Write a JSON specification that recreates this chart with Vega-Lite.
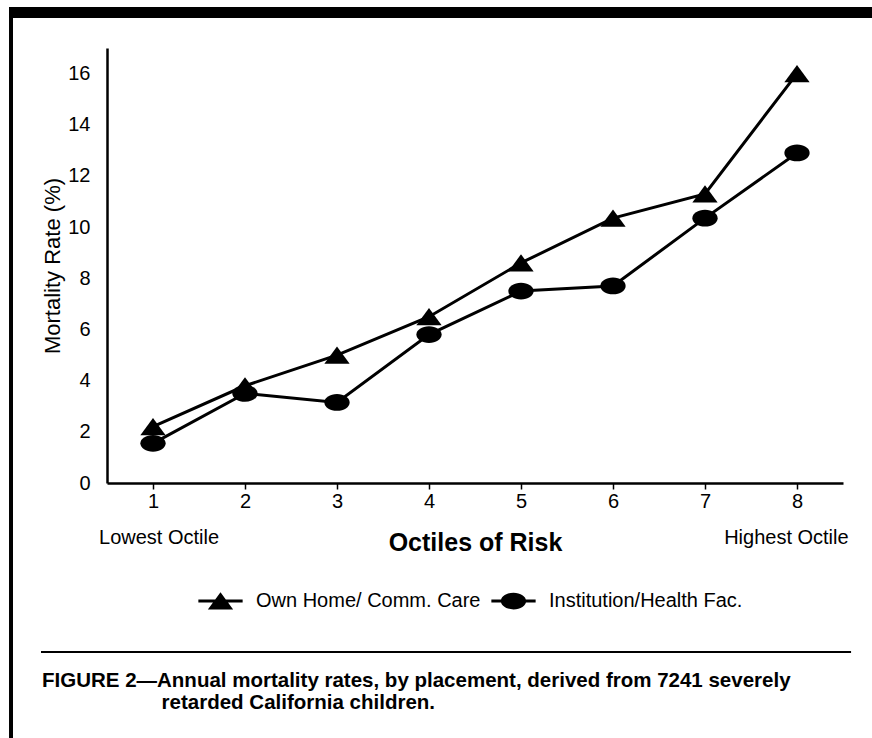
{
  "$schema": "https://vega.github.io/schema/vega-lite/v6.json",
  "width": 736,
  "height": 435,
  "autosize": {"type": "none"},
  "padding": {"left": 107, "top": 48, "right": 29, "bottom": 255},
  "background": "white",
  "config": {
    "view": {"stroke": null},
    "font": "Liberation Sans",
    "axis": {"grid": false, "labelFont": "Liberation Sans", "titleFont": "Liberation Sans", "labelColor": "black", "titleColor": "black", "domainColor": "black", "tickColor": "black"},
    "legend": {"labelFont": "Liberation Sans", "labelColor": "black"}
  },
  "title": {
    "text": [
      "FIGURE 2—Annual mortality rates, by placement, derived from 7241 severely",
      "\u200b\u00a0\u00a0\u00a0\u00a0\u00a0\u00a0\u00a0\u00a0\u00a0\u00a0\u00a0\u00a0\u00a0\u00a0\u00a0\u00a0\u00a0\u00a0\u00a0\u00a0\u00a0retarded California children."
    ],
    "orient": "bottom",
    "anchor": "start",
    "frame": "group",
    "dx": -65,
    "offset": -68,
    "font": "Liberation Sans",
    "fontSize": 20.5,
    "fontWeight": "bold",
    "lineHeight": 22,
    "color": "black"
  },
  "data": {
    "values": [
      {"series": "Own Home/ Comm. Care", "octile": 1, "rate": 2.2},
      {"series": "Own Home/ Comm. Care", "octile": 2, "rate": 3.8},
      {"series": "Own Home/ Comm. Care", "octile": 3, "rate": 5.0},
      {"series": "Own Home/ Comm. Care", "octile": 4, "rate": 6.5},
      {"series": "Own Home/ Comm. Care", "octile": 5, "rate": 8.6},
      {"series": "Own Home/ Comm. Care", "octile": 6, "rate": 10.35},
      {"series": "Own Home/ Comm. Care", "octile": 7, "rate": 11.3},
      {"series": "Own Home/ Comm. Care", "octile": 8, "rate": 16.0},
      {"series": "Institution/Health Fac.", "octile": 1, "rate": 1.55},
      {"series": "Institution/Health Fac.", "octile": 2, "rate": 3.5},
      {"series": "Institution/Health Fac.", "octile": 3, "rate": 3.15},
      {"series": "Institution/Health Fac.", "octile": 4, "rate": 5.8},
      {"series": "Institution/Health Fac.", "octile": 5, "rate": 7.5},
      {"series": "Institution/Health Fac.", "octile": 6, "rate": 7.7},
      {"series": "Institution/Health Fac.", "octile": 7, "rate": 10.35},
      {"series": "Institution/Health Fac.", "octile": 8, "rate": 12.9}
    ]
  },
  "resolve": {"scale": {"shape": "independent"}, "legend": {"shape": "independent"}},
  "layer": [
    {
      "mark": {"type": "line", "color": "black", "strokeWidth": 3},
      "encoding": {
        "x": {
          "field": "octile", "type": "quantitative",
          "scale": {"domain": [0.5, 8.5], "nice": false, "zero": false},
          "axis": {
            "title": "Octiles of Risk",
            "values": [1, 2, 3, 4, 5, 6, 7, 8],
            "labelExpr": "datum.value == 1 ? ['1', '\u200b\u00a0\u00a0Lowest Octile'] : datum.value == 8 ? ['8', 'Highest Octile\u00a0\u00a0\u00a0\u00a0\u200b'] : format(datum.value, 'd')",
            "labelFontSize": 20,
            "labelLineHeight": 36,
            "labelPadding": 2,
            "labelFlush": false,
            "labelOverlap": false,
            "labelBound": false,
            "labelLimit": 300,
            "tickSize": 6,
            "tickWidth": 1.5,
            "domainWidth": 2.5,
            "titleFontSize": 25,
            "titleFontWeight": "bold",
            "titleX": 368,
            "titleY": 67,
            "titleAlign": "center",
            "titleBaseline": "alphabetic"
          }
        },
        "y": {
          "field": "rate", "type": "quantitative",
          "scale": {"domain": [0, 17], "nice": false, "zero": true},
          "axis": {
            "title": "Mortality Rate (%)",
            "values": [0, 2, 4, 6, 8, 10, 12, 14, 16],
            "ticks": false,
            "tickSize": 0,
            "labelPadding": 17,
            "labelFontSize": 20,
            "domainWidth": 2.5,
            "titleFontSize": 22,
            "titleFontWeight": "normal",
            "titleX": -55,
            "titleY": 217.5,
            "titleAngle": -90,
            "titleAlign": "center",
            "titleBaseline": "middle"
          }
        },
        "detail": {"field": "series", "type": "nominal"}
      }
    },
    {
      "mark": {"type": "point", "filled": true, "color": "black", "opacity": 1, "size": 640},
      "encoding": {
        "x": {"field": "octile", "type": "quantitative"},
        "y": {"field": "rate", "type": "quantitative"},
        "shape": {
          "field": "series", "type": "nominal",
          "scale": {
            "domain": ["Own Home/ Comm. Care", "Institution/Health Fac."],
            "range": ["M0,-0.68L1,0.68H-1Z", "M-1,0A1,0.66 0 1,1 1,0A1,0.66 0 1,1 -1,0Z"]
          },
          "legend": null
        }
      }
    },
    {
      "mark": {"type": "point", "filled": true, "color": "black", "opacity": 0, "size": 640},
      "encoding": {
        "x": {"field": "octile", "type": "quantitative"},
        "y": {"field": "rate", "type": "quantitative"},
        "shape": {
          "field": "series", "type": "nominal",
          "scale": {
            "domain": ["Own Home/ Comm. Care", "Institution/Health Fac."],
            "range": ["M-1.75,-0.12H1.75V0.12H-1.75ZM0,-0.68L1,0.68H-1Z", "M-1.75,-0.12H1.75V0.12H-1.75ZM-1,0A1,0.66 0 1,1 1,0A1,0.66 0 1,1 -1,0Z"]
          },
          "legend": {
            "title": null,
            "orient": "none",
            "direction": "horizontal",
            "legendX": 100,
            "legendY": 539,
            "padding": 0,
            "labelFontSize": 20,
            "labelOffset": 22,
            "labelLimit": 400,
            "columnPadding": 7,
            "symbolSize": 640,
            "symbolFillColor": "black",
            "symbolOpacity": 1
          }
        }
      }
    },
    {
      "mark": {"type": "rule", "color": "black", "strokeWidth": 10},
      "encoding": {
        "x": {"datum": -0.56},
        "x2": {"datum": 9.2},
        "y": {"datum": 18.39}
      }
    },
    {
      "mark": {"type": "rule", "color": "black", "strokeWidth": 2.5},
      "encoding": {
        "x": {"datum": -0.543},
        "y": {"datum": 18.39},
        "y2": {"datum": -9.97}
      }
    },
    {
      "mark": {"type": "rule", "color": "black", "strokeWidth": 2},
      "encoding": {
        "x": {"datum": -0.217},
        "x2": {"datum": 8.587},
        "y": {"datum": -6.605}
      }
    }
  ]
}
